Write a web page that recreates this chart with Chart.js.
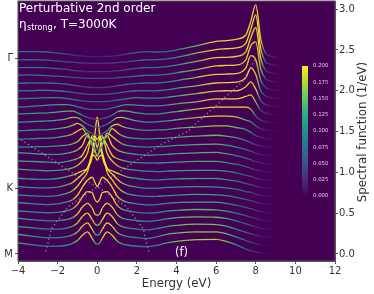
<!DOCTYPE html>
<html>
<head>
<meta charset="utf-8">
<script src="https://cdn.jsdelivr.net/npm/chart.js@4"></script>
<style>
html, body { margin: 0; padding: 0; background: #fff; }
canvas { display: block; filter: blur(0.35px); }
</style>
</head>
<body>
<canvas id="grafico" width="374" height="294"></canvas>
<script>
// --- ENERGY GRID ---
const energias = [-4,-3.5,-3,-2.5,-2,-1.5,-1.25,-1,-.75,-.5,-.25,-.125,0,.125,.25,.5,.75,1,1.25,1.5,2,2.5,3,3.5,4,5,6,6.5,7,7.5,7.75,8,8.25,8.5,8.75,9,9.5];

// --- SPECTRAL FUNCTION, ONE LIST PER K POINT (bottom M to top Gamma) ---
const curva00 = [.135,.12,.105,.095,.095,.11,.13,.165,.23,.27,.19,.14,.12,.14,.19,.27,.23,.16,.125,.11,.095,.09,.105,.135,.155,.175,.18,.155,.115,.06,.04,.025,.012,.006,.003,.001,0];
const curva01 = [.14,.125,.11,.1,.1,.115,.135,.17,.24,.28,.2,.15,.13,.15,.2,.28,.24,.165,.13,.115,.1,.09,.11,.14,.155,.17,.17,.15,.11,.065,.045,.028,.014,.007,.004,.002,0];
const curva02 = [.135,.125,.115,.105,.105,.12,.14,.18,.26,.3,.22,.17,.15,.17,.22,.3,.26,.175,.135,.12,.105,.095,.11,.135,.15,.165,.16,.14,.105,.065,.048,.03,.016,.008,.004,.002,0];
const curva03 = [.137,.125,.115,.105,.11,.125,.145,.19,.275,.32,.26,.19,.174,.19,.26,.32,.275,.185,.14,.125,.11,.1,.11,.13,.145,.155,.15,.135,.105,.07,.05,.032,.018,.009,.004,.002,0];
const curva04 = [.127,.12,.11,.105,.11,.13,.155,.205,.3,.365,.35,.27,.237,.27,.35,.365,.3,.195,.15,.13,.11,.1,.105,.125,.135,.145,.14,.125,.1,.07,.052,.033,.018,.009,.004,.002,0];
const curva05 = [.13,.12,.11,.105,.115,.14,.165,.22,.32,.4,.44,.38,.33,.38,.44,.4,.32,.21,.16,.135,.115,.1,.105,.12,.13,.135,.135,.12,.1,.07,.055,.035,.02,.01,.005,.002,0];
const curva06 = [.123,.115,.11,.105,.115,.145,.175,.23,.31,.4,.61,.6,.548,.6,.61,.4,.31,.225,.17,.14,.115,.105,.105,.115,.12,.13,.125,.115,.095,.07,.055,.035,.02,.01,.005,.002,0];
const curva07 = [.125,.115,.11,.11,.12,.15,.175,.225,.28,.35,.55,.75,.7,.75,.55,.35,.28,.22,.17,.145,.12,.105,.105,.115,.12,.125,.12,.11,.095,.065,.055,.035,.02,.01,.005,.002,0];
const curva08 = [.128,.12,.115,.115,.125,.15,.165,.19,.22,.25,.4,.65,.88,.65,.4,.25,.22,.19,.165,.145,.125,.11,.105,.115,.12,.125,.125,.11,.095,.065,.05,.03,.018,.009,.004,.002,0];
const curva09 = [.14,.13,.125,.12,.125,.14,.155,.185,.24,.33,.55,.52,.4,.52,.55,.33,.24,.185,.155,.14,.125,.115,.11,.115,.12,.125,.125,.115,.095,.065,.05,.03,.018,.009,.004,.002,0];
const curva10 = [.14,.135,.13,.125,.12,.135,.15,.17,.21,.33,.43,.28,.2,.28,.43,.33,.21,.17,.15,.135,.12,.115,.115,.12,.125,.135,.135,.12,.1,.07,.05,.03,.018,.009,.004,.002,0];
const curva11 = [.14,.135,.125,.12,.12,.135,.15,.175,.23,.35,.24,.15,.12,.15,.24,.35,.23,.175,.15,.135,.12,.11,.115,.12,.13,.14,.145,.13,.105,.075,.055,.032,.018,.009,.004,.002,0];
const curva12 = [.11,.11,.115,.115,.125,.135,.15,.175,.24,.28,.13,.09,.08,.09,.13,.28,.24,.19,.15,.13,.115,.11,.115,.12,.13,.14,.145,.135,.11,.08,.06,.035,.02,.01,.005,.002,0];
const curva13 = [.105,.11,.115,.12,.13,.15,.17,.205,.235,.14,.09,.07,.065,.07,.09,.14,.235,.19,.15,.13,.115,.11,.115,.12,.13,.145,.155,.145,.125,.09,.065,.04,.022,.012,.006,.002,0];
const curva14 = [.11,.115,.12,.125,.135,.155,.175,.2,.17,.11,.075,.06,.055,.06,.075,.11,.17,.19,.165,.145,.125,.115,.12,.125,.14,.155,.17,.17,.15,.125,.09,.05,.028,.014,.007,.003,0];
const curva15 = [.114,.12,.125,.13,.14,.16,.175,.17,.13,.09,.065,.055,.05,.055,.065,.09,.13,.17,.175,.16,.13,.115,.12,.13,.145,.17,.19,.19,.18,.14,.12,.07,.035,.018,.009,.004,0];
const curva16 = [.116,.12,.125,.13,.14,.15,.15,.13,.1,.075,.06,.055,.05,.055,.06,.075,.1,.14,.155,.15,.13,.115,.115,.13,.145,.175,.2,.2,.2,.2,.175,.09,.04,.02,.01,.004,0];
const curva17 = [.1,.105,.115,.125,.13,.13,.12,.105,.09,.075,.07,.07,.073,.07,.07,.075,.09,.105,.12,.13,.125,.115,.115,.125,.14,.165,.2,.2,.2,.23,.25,.16,.06,.025,.012,.005,0];
const curva18 = [.1,.105,.11,.115,.115,.105,.095,.085,.075,.07,.066,.066,.066,.066,.066,.07,.075,.085,.095,.105,.115,.11,.11,.12,.135,.165,.195,.2,.2,.25,.31,.22,.08,.03,.014,.006,0];
const curva19 = [.1,.1,.105,.105,.1,.09,.08,.07,.065,.06,.057,.057,.057,.057,.057,.06,.065,.07,.08,.09,.1,.1,.1,.11,.13,.16,.195,.2,.205,.26,.38,.3,.1,.035,.016,.007,0];
const curva20 = [.09,.095,.095,.095,.09,.08,.07,.06,.05,.045,.04,.04,.04,.04,.04,.045,.05,.06,.07,.08,.09,.095,.095,.105,.125,.165,.2,.205,.21,.28,.43,.38,.13,.04,.018,.008,0];
const curva21 = [.09,.095,.09,.085,.08,.07,.065,.06,.055,.053,.053,.053,.053,.053,.053,.053,.055,.06,.065,.07,.08,.09,.09,.1,.12,.16,.205,.21,.215,.28,.45,.5,.17,.045,.02,.008,0];
const curva22 = [.083,.085,.085,.08,.07,.06,.05,.045,.04,.035,.034,.034,.034,.034,.034,.035,.04,.045,.05,.06,.075,.085,.085,.095,.115,.16,.205,.21,.22,.28,.45,.575,.2,.05,.022,.009,0];
const curva23 = [.077,.08,.08,.075,.065,.055,.05,.045,.04,.038,.036,.036,.036,.036,.036,.038,.04,.045,.05,.055,.07,.08,.08,.09,.11,.16,.205,.215,.225,.285,.45,.63,.22,.055,.025,.01,0];
const curva24 = [.08,.08,.08,.075,.06,.05,.04,.03,.025,.02,.018,.018,.018,.018,.018,.02,.025,.03,.04,.05,.07,.08,.075,.08,.1,.15,.205,.215,.23,.285,.45,.655,.24,.06,.025,.01,0];
const curvas = [curva00,curva01,curva02,curva03,curva04,curva05,curva06,curva07,curva08,curva09,curva10,curva11,curva12,curva13,curva14,curva15,curva16,curva17,curva18,curva19,curva20,curva21,curva22,curva23,curva24];
const passoCurvas = 0.1; // vertical shift between neighbouring curves

// --- DOTTED BANDS (energy, shifted position) ---
const bandaEsqBaixo = [[-2.6,.03],[-2.5,.12],[-2.32,.31],[-1.47,.58],[0,.825]];
const bandaDirBaixo = [[2.6,.03],[2.5,.12],[2.32,.31],[1.47,.58],[0,.825]];
const bandaEsqCima = [[0,.825],[-.96,.947],[-3,1.27],[-4,1.42]];
const bandaDirCima = [[0,.825],[1.15,1.01],[3.17,1.335],[4.54,1.5],[7.41,2.13],[8,2.4]];

// --- TICKS ---
const ticksEnergia = [-4,-2,0,2,4,6,8,10,12];
const ticksEspectro = [0,.5,1,1.5,2,2.5,3];
const ticksCaminho = [0,.8,2.4];
const rotulosCaminho = ['M','K','Γ'];
const ticksBarra = [0,.025,.05,.075,.1,.125,.15,.175,.2];
const maxCor = 0.2;

const viridis = [[68,1,84],[72,40,120],[62,73,137],[49,104,142],[38,130,142],[31,158,137],[53,183,121],[110,206,88],[181,222,43],[253,231,37]];

// lines are thin in the picture, so they read a little dimmer than the colour bar
function corViridis(v, alfa) {
    const t = Math.max(0, Math.min(1, v / maxCor)) * (viridis.length - 1);
    const i = Math.min(Math.floor(t), viridis.length - 2);
    const f = t - i;
    const c = viridis[i].map((a, k) => Math.round(a + (viridis[i + 1][k] - a) * f));
    return `rgba(${c[0]},${c[1]},${c[2]},${alfa})`;
}

// each segment fades between the colours of its two end points
function corSegmento(ctx) {
    const valores = curvas[ctx.datasetIndex];
    const g = ctx.chart.ctx.createLinearGradient(ctx.p0.x, ctx.p0.y, ctx.p1.x, ctx.p1.y);
    g.addColorStop(0, corViridis(valores[ctx.p0DataIndex], 0.92));
    g.addColorStop(1, corViridis(valores[ctx.p1DataIndex], 0.92));
    return g;
}

const datasets = curvas.map((valores, i) => ({
    data: valores.map((v, j) => ({ x: energias[j], y: v + i * passoCurvas })),
    borderColor: '#440154',
    borderWidth: 1.3,
    pointRadius: 0,
    cubicInterpolationMode: 'monotone',
    segment: { borderColor: corSegmento },
    order: 25 - i
}));

[bandaEsqBaixo, bandaDirBaixo, bandaEsqCima, bandaDirCima].forEach(banda => {
    datasets.push({
        data: banda.map(p => ({ x: p[0], y: p[1] })),
        borderColor: 'rgba(215,175,215,0.6)',
        borderWidth: 1.4,
        borderDash: [1.4, 2.6],
        pointRadius: 0,
        tension: 0,
        order: 0
    });
});

const pluginDecoracao = {
    id: 'decoracao',
    beforeDatasetsDraw(chart) {
        const { ctx, chartArea: a } = chart;
        ctx.save();
        ctx.fillStyle = '#440154';
        ctx.fillRect(a.left, a.top, a.right - a.left, a.bottom - a.top);
        ctx.restore();
    },
    afterDatasetsDraw(chart) {
        const { ctx, chartArea: a } = chart;
        ctx.save();
        // colour bar inside the axes
        const bx = 302, bw = 6, bTopo = 66, bBase = 196;
        const g = ctx.createLinearGradient(0, bBase, 0, bTopo);
        viridis.forEach((c, i) => g.addColorStop(i / (viridis.length - 1), `rgb(${c.join(',')})`));
        ctx.fillStyle = g;
        ctx.fillRect(bx, bTopo, bw, bBase - bTopo);
        ctx.fillStyle = '#e3c4e6';
        ctx.font = '5.4px "DejaVu Sans"';
        ctx.textBaseline = 'middle';
        ticksBarra.forEach(t => {
            ctx.fillText(t.toFixed(3), 313, bBase - (bBase - bTopo) * t / maxCor);
        });
        // labels written on the plot
        ctx.fillStyle = '#fff';
        ctx.textBaseline = 'alphabetic';
        ctx.font = '12px "DejaVu Sans"';
        ctx.fillText('Perturbative 2nd order', 19, 12);
        ctx.fillText('η', 19, 28);
        ctx.fillText(', T=3000K', 53, 28);
        ctx.font = '8px "DejaVu Sans"';
        ctx.fillText('strong', 27, 30);
        ctx.font = '11.5px "DejaVu Sans"';
        ctx.fillText('(f)', 175, 256);
        // frame
        ctx.strokeStyle = '#555';
        ctx.lineWidth = 1;
        ctx.strokeRect(a.left, a.top, a.right - a.left, a.bottom - a.top);
        // right axis title reads upwards
        ctx.fillStyle = '#333';
        ctx.font = '11.8px "DejaVu Sans"';
        ctx.textAlign = 'center';
        ctx.translate(366, 132);
        ctx.rotate(-Math.PI / 2);
        ctx.fillText('Spectral function (1/eV)', 0, 0);
        ctx.restore();
    }
};

const yMin = -0.086, yMax = 3.1;
const fonteTick = { family: 'DejaVu Sans', size: 10 };

function semFolga(s) {
    s.paddingTop = 0;
    s.paddingBottom = 0;
    s.paddingLeft = 0;
    s.paddingRight = 0;
}

new Chart(document.getElementById('grafico'), {
    type: 'line',
    data: { datasets },
    plugins: [pluginDecoracao],
    options: {
        responsive: false,
        animation: false,
        events: [],
        layout: { padding: { top: 1, bottom: 0, left: 0, right: 0 } },
        plugins: { legend: { display: false }, tooltip: { enabled: false } },
        scales: {
            x: {
                type: 'linear', min: -4, max: 12,
                afterBuildTicks: s => { s.ticks = ticksEnergia.map(v => ({ value: v })); },
                afterFit: s => { s.height = 33; semFolga(s); },
                grid: { drawOnChartArea: false, tickLength: 3, color: '#555' },
                border: { color: '#555' },
                ticks: { font: fonteTick, color: '#333', padding: 1, maxRotation: 0, callback: v => v.toString().replace('-', '−') },
                title: { display: true, text: 'Energy (eV)', font: { family: 'DejaVu Sans', size: 11.8 }, color: '#333', padding: { top: 0, bottom: 3 } }
            },
            y: {
                type: 'linear', position: 'right', min: yMin, max: yMax,
                afterBuildTicks: s => { s.ticks = ticksEspectro.map(v => ({ value: v })); },
                afterFit: s => { s.width = 39; semFolga(s); },
                grid: { drawOnChartArea: false, tickLength: 3, color: '#555' },
                border: { color: '#555' },
                ticks: { font: fonteTick, color: '#333', padding: 1, callback: v => v.toFixed(1) }
            },
            yCaminho: {
                type: 'linear', position: 'left', min: yMin, max: yMax,
                afterBuildTicks: s => { s.ticks = ticksCaminho.map(v => ({ value: v })); },
                afterFit: s => { s.width = 18; semFolga(s); },
                grid: { drawOnChartArea: false, tickLength: 3, color: '#555' },
                border: { color: '#555' },
                ticks: { font: fonteTick, color: '#333', padding: 2, callback: v => rotulosCaminho[ticksCaminho.indexOf(v)] }
            }
        }
    }
});
</script>
</body>
</html>
